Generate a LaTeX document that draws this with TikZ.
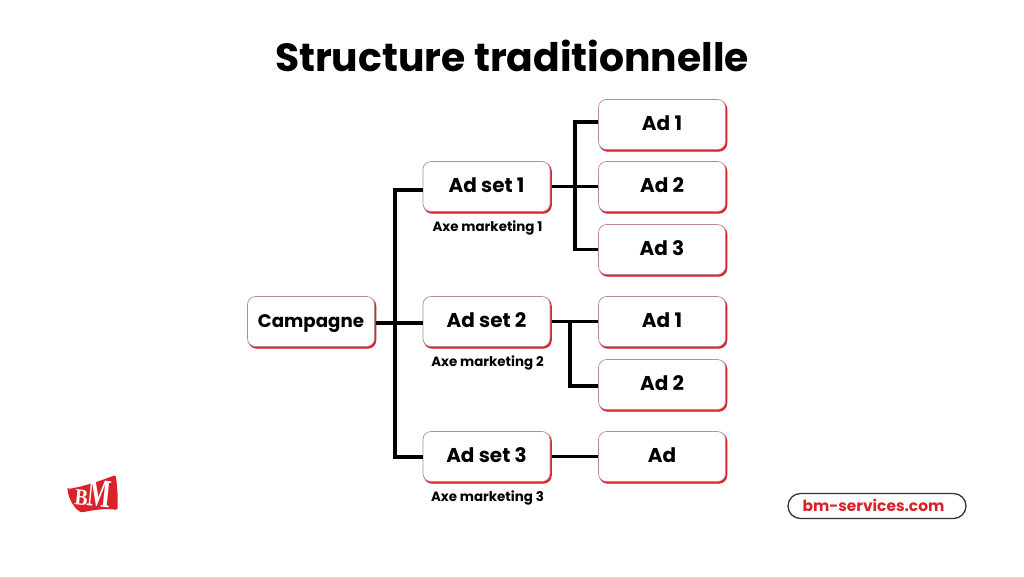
\documentclass[tikz,border=0pt]{standalone}
\usepackage{fontspec}
\setmainfont{Poppins}
\newfontfamily\serifbm{Liberation Serif}
\usetikzlibrary{calc}
\definecolor{bmred}{HTML}{D8232A}
\definecolor{edgepink}{HTML}{B98C92}
\tikzset{
  card/.style={minimum width=127pt,minimum height=50pt,inner sep=0pt,rounded corners=8pt,draw=edgepink,line width=0.7pt,fill=white,
    font=\fontsize{20}{22}\selectfont\bfseries,text=black,text height=13pt,text depth=1.5pt,
    preaction={draw=bmred,fill=bmred,line width=1.2pt,transform canvas={xshift=1.2pt,yshift=-1.6pt}}},
  link/.style={line width=3.8pt,black,line cap=butt},
  axe/.style={font=\fontsize{13.4}{15}\selectfont\bfseries,text=black,inner sep=0pt},
}
\begin{document}
\begin{tikzpicture}[x=1pt,y=-1pt]
\useasboundingbox (0,0) rectangle (1024,576);
\fill[white] (0,0) rectangle (1024,576);
\node[inner sep=0pt,font=\fontsize{39.3}{42}\selectfont\bfseries] (title) at (512,56) {Structure traditionnelle};
% junctions
\coordinate (j0) at (395,323);
\coordinate (j1) at (575,187);
\coordinate (j2) at (570,321);
% nodes
\node[card,font=\fontsize{18.2}{20}\selectfont\bfseries] (camp) at (311,321.5) {Campagne};
\node[card] (s1) at (486.5,186.5) {Ad set 1};
\node[card] (s2) at (486.5,321.5) {Ad set 2};
\node[card] (s3) at (486.5,456.5) {Ad set 3};
\node[card] (a11) at (662,124.5) {Ad 1};
\node[card] (a12) at (662,186.5) {Ad 2};
\node[card] (a13) at (662,249.5) {Ad 3};
\node[card] (a21) at (662,321.5) {Ad 1};
\node[card] (a22) at (662,384.5) {Ad 2};
\node[card] (a3) at (662,456.5) {Ad};
\node[axe] (l1) at (487.5,227.5) {Axe marketing 1};
\node[axe] (l2) at (487.5,362.5) {Axe marketing 2};
\node[axe] (l3) at (487.5,497.5) {Axe marketing 3};
% connectors
\draw[link] ([xshift=1.5pt,yshift=-1.5pt]camp.east) -- ([yshift=-1.5pt]s2.west);
\draw[link] (j0) |- ([yshift=-3.5pt]s1.west);
\draw[link] (j0) |- ([yshift=-0.5pt]s3.west);
\draw[link] ([xshift=1.5pt]s1.east) -- (a12.west);
\draw[link] (j1) |- ([yshift=2.5pt]a11.west);
\draw[link] (j1) |- (a13.west);
\draw[link] ([xshift=1.5pt]s2.east) -- (a21.west);
\draw[link] (j2) |- ([yshift=-1.5pt]a22.west);
\draw[link] ([xshift=1.5pt]s3.east) -- (a3.west);
% url
\node[draw=black!80,line width=1.3pt,rounded corners=12.5pt,minimum width=178pt,minimum height=25pt,inner sep=0pt,text=bmred,font=\fontsize{15.4}{17}\selectfont\bfseries] (url) at (877,506) {\raisebox{1pt}{bm-services.com}\hspace*{7pt}};
% logo
\fill[bmred,rounded corners=1.5pt] (67.5,489) .. controls (82,487) and (100,481) .. (115.5,475) .. controls (117.5,486) and (118,498) .. (117.5,510) .. controls (106,508) and (94,510) .. (81,512.5) .. controls (73,507) and (68.5,498) .. (67.5,489) -- cycle;
\node[inner sep=0pt,text=white,rotate=-6,xscale=.85,font=\serifbm\fontsize{23}{23}\selectfont\bfseries] (logoB) at (81.5,498) {B};
\node[inner sep=0pt,text=white,rotate=-6,xscale=.62,font=\serifbm\fontsize{40}{40}\selectfont\bfseries] (logoM) at (99.5,494) {M};
\end{tikzpicture}
\end{document}
